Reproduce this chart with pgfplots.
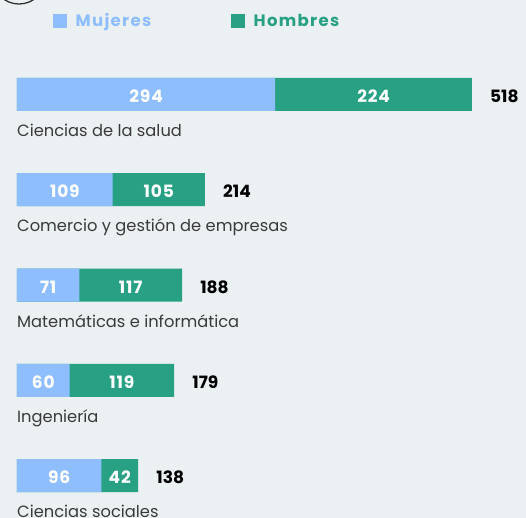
\documentclass[border=0pt]{standalone}
\usepackage{pgfplots}
\pgfplotsset{compat=1.18}
\usepackage{pgfplotstable}
\usepackage{fontspec}
\setmainfont{Poppins}
\newfontfamily\numfont[LetterSpace=5]{Poppins}
\newfontfamily\legfont[LetterSpace=8]{Poppins}
\definecolor{bg}{HTML}{EBF0F3}
\definecolor{muj}{HTML}{8FBEFF}
\definecolor{hom}{HTML}{27A083}
\definecolor{lab}{HTML}{3A3A3A}
\pgfplotstableread[col sep=comma]{
i,m,h,t,name
0,294,224,518,Ciencias de la salud
1,109,105,214,Comercio y gestión de empresas
2,71,117,188,Matemáticas e informática
3,60,119,179,Ingeniería
4,96,42,138,Ciencias sociales
}\data
\pagecolor{bg}
\begin{document}
\begin{tikzpicture}
\begin{axis}[
  scale only axis, width=526bp, height=518bp,
  xmin=-19.35, xmax=579.5, ymin=-0.992, ymax=4.446, y dir=reverse,
  axis lines=none, xtick=\empty, ytick=\empty,
  axis background/.style={fill=bg},
  clip=false,
  legend columns=2,
  legend style={draw=none, fill=none, at={(axis cs:41,-0.772)}, anchor=west,
    inner sep=0pt,
    nodes={inner sep=0pt, anchor=west, font=\legfont\bfseries\fontsize{16.5bp}{19bp}\selectfont},
    /tikz/every odd column/.append style={column sep=9bp},
    /tikz/every even column/.append style={column sep=80bp}},
]
\addlegendimage{legend image code/.code={\fill[muj] (0bp,-6.5bp) rectangle (13bp,6.5bp);}}
\addlegendentry{\textcolor{muj}{Mujeres}}
\addlegendimage{legend image code/.code={\fill[hom] (0bp,-6.5bp) rectangle (13bp,6.5bp);}}
\addlegendentry{\textcolor{hom}{Hombres}}

\addplot[xbar, bar shift=0pt, bar width=33bp, fill=hom, draw=none]
  table[x expr=\thisrow{m}+\thisrow{h}, y=i] {\data};
\addplot[xbar, bar shift=0pt, bar width=33bp, fill=muj, draw=none]
  table[x=m, y=i] {\data};

% inner values
\addplot[draw=none, mark=none, nodes near coords, point meta=explicit symbolic,
  every node near coord/.append style={anchor=base, yshift=-8bp, inner sep=0pt, text=white,
    font=\numfont\bfseries\fontsize{17bp}{20bp}\selectfont}]
  table[x expr=\thisrow{m}/2, y=i, meta=m] {\data};
\addplot[draw=none, mark=none, nodes near coords, point meta=explicit symbolic,
  every node near coord/.append style={anchor=base, yshift=-8bp, inner sep=0pt, text=white,
    font=\numfont\bfseries\fontsize{17bp}{20bp}\selectfont}]
  table[x expr=\thisrow{m}+\thisrow{h}/2, y=i, meta=h] {\data};
% totals
\addplot[draw=none, mark=none, nodes near coords, point meta=explicit symbolic,
  every node near coord/.append style={anchor=base west, xshift=18bp, yshift=-8bp, inner sep=0pt, text=black,
    font=\bfseries\fontsize{17bp}{20bp}\selectfont}]
  table[x=t, y=i, meta=t] {\data};
% category names
\addplot[draw=none, mark=none, nodes near coords, point meta=explicit symbolic,
  every node near coord/.append style={anchor=base west, yshift=-42bp, inner sep=0pt, text=lab,
    font=\fontsize{16.3bp}{19bp}\selectfont}]
  table[x expr=0, y=i, meta=name] {\data};

\draw[overlay, color=black!80, line width=1.3bp] (axis cs:2.28,-1.228) circle[radius=26.5bp];
\end{axis}
\end{tikzpicture}
\end{document}
